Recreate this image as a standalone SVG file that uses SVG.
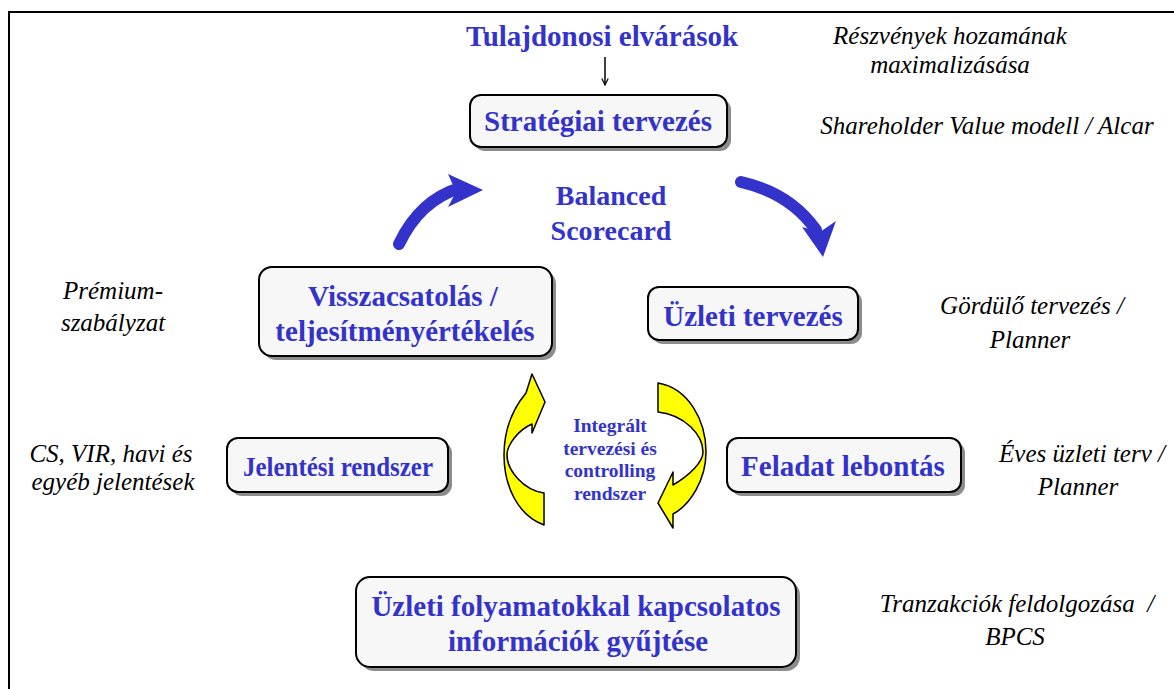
<svg xmlns="http://www.w3.org/2000/svg" width="1174" height="689" viewBox="0 0 1174 689">
  <style>
    .box { fill: #F7F7F7; stroke: #000; stroke-width: 2; }
    .shadow { fill: #8C8C8C; }
    .lbl { font-family: "Liberation Serif", "Times New Roman", serif; font-weight: bold; fill: #3333CC; text-anchor: middle; }
    .note { font-family: "Liberation Serif", "Times New Roman", serif; font-style: italic; fill: #000; font-size: 25px; text-anchor: middle; }
    .blue-arrow { fill: none; stroke: #3333CC; stroke-width: 12; stroke-linecap: round; }
    .yellow-arrow { fill: #FFFF00; stroke: #000; stroke-width: 1.5; stroke-linejoin: round; }
  </style>
  <defs>
    <marker id="openHead" viewBox="0 0 10 10" refX="9" refY="5" markerWidth="8" markerHeight="8" orient="auto" markerUnits="userSpaceOnUse">
      <path d="M1,1 L9,5 L1,9" fill="none" stroke="#000" stroke-width="1.5"/>
    </marker>
  </defs>

  <rect width="1174" height="689" fill="#fff"/>
  <!-- page frame -->
  <path d="M9,689 L9,12 L1174,12" fill="none" stroke="#000" stroke-width="2"/>

  <!-- title -->
  <g id="owner-expectations">
    <text class="lbl" x="602" y="46" font-size="29">Tulajdonosi elvárások</text>
  </g>

  <g id="strategic-planning">
    <rect class="shadow" x="474" y="99" width="257" height="52" rx="11"/>
    <rect class="box" x="470" y="95" width="257" height="52" rx="11"/>
    <text class="lbl" x="598" y="131" font-size="29">Stratégiai tervezés</text>
  </g>

  <g id="balanced-scorecard">
    <text class="lbl" x="611" y="205" font-size="28">Balanced</text>
    <text class="lbl" x="611" y="240" font-size="28">Scorecard</text>
  </g>

  <g id="feedback">
    <rect class="shadow" x="263" y="271" width="293" height="89" rx="13"/>
    <rect class="box" x="259" y="267" width="293" height="89" rx="13"/>
    <text class="lbl" x="403" y="306" font-size="29">Visszacsatolás /</text>
    <text class="lbl" x="405" y="341" font-size="29">teljesítményértékelés</text>
  </g>

  <g id="business-planning">
    <rect class="shadow" x="652" y="291" width="210" height="53" rx="11"/>
    <rect class="box" x="648" y="287" width="210" height="53" rx="11"/>
    <text class="lbl" x="753" y="326" font-size="29">Üzleti tervezés</text>
  </g>

  <g id="reporting-system">
    <rect class="shadow" x="231" y="442" width="221" height="54" rx="11"/>
    <rect class="box" x="227" y="438" width="221" height="54" rx="11"/>
    <text class="lbl" x="338" y="476" font-size="28" textLength="190" lengthAdjust="spacingAndGlyphs">Jelentési rendszer</text>
  </g>

  <g id="task-breakdown">
    <rect class="shadow" x="731" y="442" width="234" height="54" rx="11"/>
    <rect class="box" x="727" y="438" width="234" height="54" rx="11"/>
    <text class="lbl" x="843" y="476" font-size="29">Feladat lebontás</text>
  </g>

  <g id="info-collection">
    <rect class="shadow" x="360" y="581" width="440" height="90" rx="14"/>
    <rect class="box" x="356" y="577" width="440" height="90" rx="14"/>
    <text class="lbl" x="576" y="616" font-size="29">Üzleti folyamatokkal kapcsolatos</text>
    <text class="lbl" x="578" y="651" font-size="29">információk gyűjtése</text>
  </g>

  <g id="integrated-system">
    <text class="lbl" x="610" y="432" font-size="19.5">Integrált</text>
    <text class="lbl" x="610" y="455" font-size="19.5">tervezési és</text>
    <text class="lbl" x="610" y="477" font-size="19.5">controlling</text>
    <text class="lbl" x="610" y="500" font-size="19.5">rendszer</text>
  </g>

  <!-- connectors -->
  <g id="connectors">
    <line x1="605" y1="57" x2="605" y2="85" stroke="#000" stroke-width="1.5" marker-end="url(#openHead)"/>
    <!-- blue cycle arrows -->
    <path class="blue-arrow" d="M399,244 Q420,200 460,188"/>
    <polygon points="448,174 483,190 448,207 456,192" fill="#3333CC"/>
    <path class="blue-arrow" d="M741,182 Q790,193 816,230"/>
    <polygon points="802,227 823,257 836,221 820,232" fill="#3333CC"/>
    <!-- yellow cycle arrows -->
    <path class="yellow-arrow" d="M532,374 L545,402 L532,433 L532,424 C518,430 507,445 507,455 C507,470 523,490 544,493 L544,525 C517,515 504,485 504,455 C504,425 516,405 526,393 Z"/>
    <path class="yellow-arrow" d="M658,383 C688,388 706,420 706,452 C706,480 690,505 673,514 L673,528 L658,503 L673,472 L673,485 C690,475 703,462 703,452 C703,435 685,415 658,412 Z"/>
  </g>

  <!-- annotations -->
  <g id="notes">
    <text class="note" x="950" y="44">Részvények hozamának</text>
    <text class="note" x="950" y="73">maximalizásása</text>
    <text class="note" x="987" y="134">Shareholder Value modell / Alcar</text>
    <text class="note" x="113" y="299">Prémium-</text>
    <text class="note" x="113" y="331">szabályzat</text>
    <text class="note" x="1032" y="314">Gördülő tervezés /</text>
    <text class="note" x="1030" y="348">Planner</text>
    <text class="note" x="111" y="462">CS, VIR, havi és</text>
    <text class="note" x="113" y="490">egyéb jelentések</text>
    <text class="note" x="1082" y="462">Éves üzleti terv /</text>
    <text class="note" x="1078" y="495">Planner</text>
    <text class="note" x="1017" y="612" xml:space="preserve">Tranzakciók feldolgozása  /</text>
    <text class="note" x="1015" y="645">BPCS</text>
  </g>
</svg>
